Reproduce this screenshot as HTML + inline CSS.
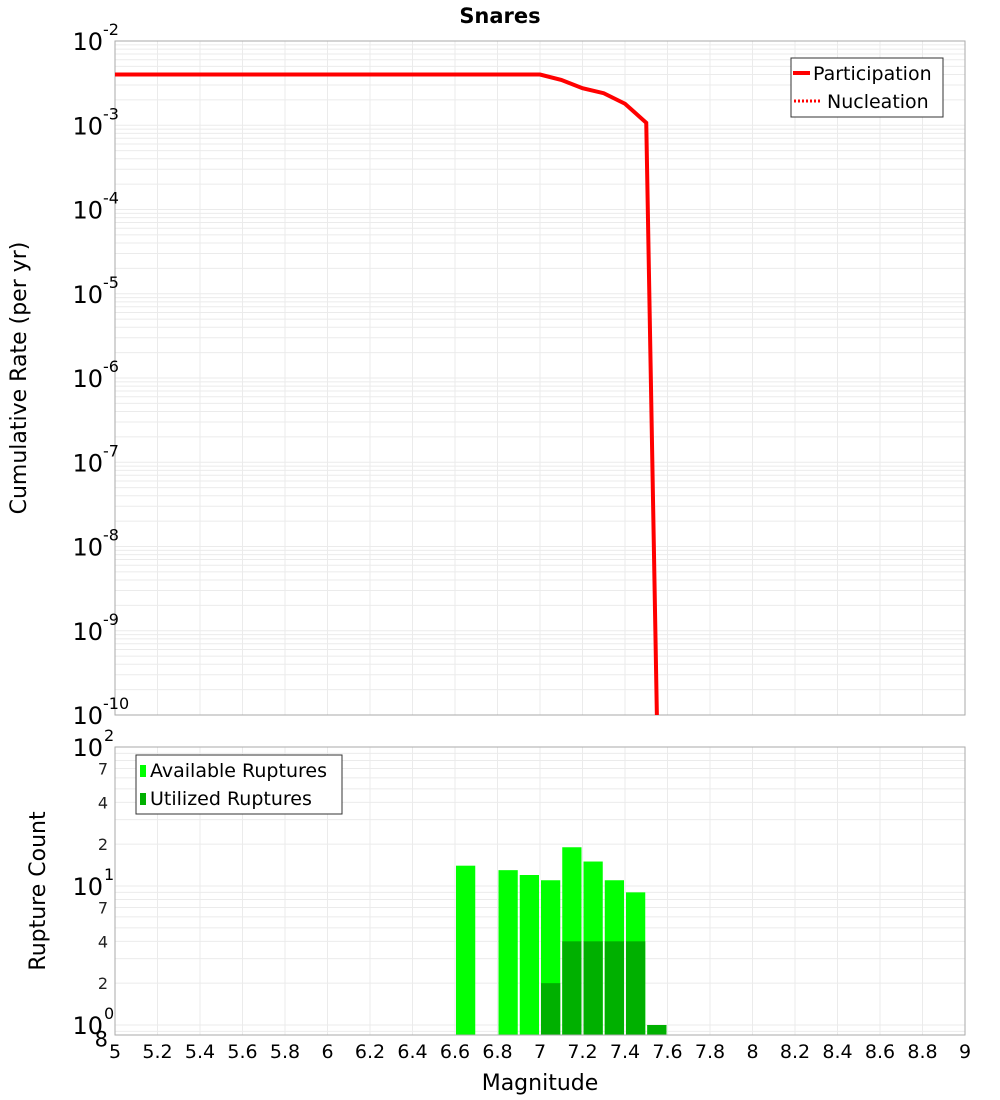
<!DOCTYPE html>
<html><head><meta charset="utf-8"><style>
body{margin:0;background:#fff;}
svg{display:block;font-family:"DejaVu Sans","Liberation Sans",sans-serif;}
</style></head><body>
<svg id="c" width="1000" height="1100" xmlns="http://www.w3.org/2000/svg"></svg>
<script>
// ---- data ----
const rateMags = [5.0, 7.0, 7.1, 7.2, 7.3, 7.4, 7.5, 7.55];
const rateVals = [4e-3, 4e-3, 3.45e-3, 2.75e-3, 2.4e-3, 1.8e-3, 1.07e-3, 1e-10];
const binMags = [6.65, 6.85, 6.95, 7.05, 7.15, 7.25, 7.35, 7.45, 7.55];
const availCounts = [14, 13, 12, 11, 19, 15, 11, 9, 1];
const usedCounts = [0, 0, 0, 2, 4, 4, 4, 4, 1];
const xTicks = [5,5.2,5.4,5.6,5.8,6,6.2,6.4,6.6,6.8,7,7.2,7.4,7.6,7.8,8,8.2,8.4,8.6,8.8,9];
const topDecades = [-2,-3,-4,-5,-6,-7,-8,-9,-10];
const botMinorLabels = [7,4,2];

const NS="http://www.w3.org/2000/svg";
const svg=document.getElementById('c');
function mk(tag,attrs,parent){const e=document.createElementNS(NS,tag);for(const k in attrs)e.setAttribute(k,attrs[k]);(parent||svg).appendChild(e);return e;}

const X0=115,X1=965;
const x=m=>X0+(m-5)/4*(X1-X0);
const T0=41,T1=715;
const yTop=v=>T0+(-2-Math.log10(v))/8*(T1-T0);
const B0=747,B1=1035,BD=139;
const yBot=v=>B0+(2-Math.log10(v))*BD;

// title
let t=mk('text',{x:500,y:23,'text-anchor':'middle','font-size':21,'font-weight':'bold'});
t.textContent='Snares';



// ---- top panel ----
const gTop=mk('g',{});


mk('rect',{x:X0,y:T0,width:X1-X0,height:T1-T0,fill:'#fff'},gTop);
for(let d=-3;d>=-10;d--){for(let k=1;k<10;k++){const v=k*Math.pow(10,d);const yy=yTop(v);if(yy<T0||yy>T1)continue;mk('line',{x1:X0,x2:X1,y1:yy,y2:yy,stroke:'#ebebeb','stroke-width':1},gTop);}}
xTicks.forEach(m=>{mk('line',{x1:x(m),x2:x(m),y1:T0,y2:T1,stroke:'#ebebeb','stroke-width':1},gTop);});
mk('rect',{x:X0,y:T0,width:X1-X0,height:T1-T0,fill:'none',stroke:'#aaa'},gTop);
topDecades.forEach(d=>{
  const yy=yTop(Math.pow(10,d));
  const tx=mk('text',{x:103,y:yy+9,'text-anchor':'end','font-size':24},gTop);
  tx.textContent='10';
  
  
  const sp=mk('text',{x:103,y:yy-6,'font-size':16},gTop);
  sp.textContent=String(d);
  
  
});
const cp=document.createElementNS(NS,'clipPath');cp.id='ct';svg.appendChild(cp);
mk('rect',{x:X0,y:T0,width:X1-X0,height:T1-T0},cp);
let pts=rateMags.map((m,i)=>x(m)+','+yTop(rateVals[i])).join(' ');
const pl=mk('polyline',{points:pts,fill:'none',stroke:'#f00','stroke-width':4,'clip-path':'url(#ct)'},gTop);


let yl=mk('text',{x:0,y:0,'font-size':22,'text-anchor':'middle',transform:'translate(26,378) rotate(-90)'});
yl.textContent='Cumulative Rate (per yr)';


// legend top
const lg=mk('g',{});


mk('rect',{x:791,y:58,width:152,height:59,fill:'#fff',stroke:'#333'},lg);
mk('line',{x1:793,x2:810,y1:73,y2:73,stroke:'#f00','stroke-width':4},lg);
let l1=mk('text',{x:813,y:80,'font-size':19},lg);l1.textContent='Participation';


mk('line',{x1:794,x2:820,y1:101,y2:101,stroke:'#f00','stroke-width':3,'stroke-dasharray':'2,2'},lg);
let l2=mk('text',{x:827,y:108,'font-size':19},lg);l2.textContent='Nucleation';



// ---- bottom panel ----
const gB=mk('g',{});


for(let d=-1;d<2;d++){for(let k=1;k<10;k++){const v=k*Math.pow(10,d);const yy=yBot(v);if(yy<B0||yy>B1)continue;mk('line',{x1:X0,x2:X1,y1:yy,y2:yy,stroke:'#ebebeb'},gB);}}
xTicks.forEach(m=>{mk('line',{x1:x(m),x2:x(m),y1:B0,y2:B1,stroke:'#ebebeb'},gB);});
const bw=x(5.1)-x(5);
binMags.forEach((m,i)=>{
  const x0=x(m)-bw/2+1;
  const r=mk('rect',{x:x0,y:yBot(availCounts[i]),width:bw-2,height:B1-yBot(availCounts[i]),fill:'#00ff00'},gB);
  
  
  if(usedCounts[i]>0){
    const u=mk('rect',{x:x0,y:yBot(usedCounts[i]),width:bw-2,height:B1-yBot(usedCounts[i]),fill:'#00b000'},gB);
    
    
  }
});
mk('rect',{x:X0,y:B0,width:X1-X0,height:B1-B0,fill:'none',stroke:'#aaa'},gB);
[2,1,0].forEach(d=>{
  const yy=yBot(Math.pow(10,d));
  const tx=mk('text',{x:103,y:yy+9,'text-anchor':'end','font-size':24},gB);tx.textContent='10';
  
  
  const sp=mk('text',{x:104,y:yy-6,'font-size':16},gB);sp.textContent=String(d);
  
  
});
[1,0].forEach(d=>{botMinorLabels.forEach(k=>{
  const yy=yBot(k*Math.pow(10,d));
  const tx=mk('text',{x:108,y:yy+6,'text-anchor':'end','font-size':16,fill:'#222'},gB);tx.textContent=String(k);
  
  
});});
let e8=mk('text',{x:108,y:yBot(0.8)+8,'text-anchor':'end','font-size':21},gB);e8.textContent='8';


xTicks.forEach(m=>{
  const tx=mk('text',{x:x(m),y:1058,'text-anchor':'middle','font-size':19},gB);
  tx.textContent=String(m);
  
  
});
let xl=mk('text',{x:540,y:1090,'text-anchor':'middle','font-size':22});xl.textContent='Magnitude';


let yl2=mk('text',{x:0,y:0,'font-size':22,'text-anchor':'middle',transform:'translate(45,891) rotate(-90)'});
yl2.textContent='Rupture Count';


const lb=mk('g',{});


mk('rect',{x:136,y:755,width:206,height:59,fill:'#fff',stroke:'#333'},lb);
mk('rect',{x:140,y:765,width:6,height:12,fill:'#00ff00'},lb);
let a1=mk('text',{x:150,y:777,'font-size':19},lb);a1.textContent='Available Ruptures';


mk('rect',{x:140,y:793,width:6,height:12,fill:'#00b000'},lb);
let a2=mk('text',{x:150,y:805,'font-size':19},lb);a2.textContent='Utilized Ruptures';


</script>
</body></html>
